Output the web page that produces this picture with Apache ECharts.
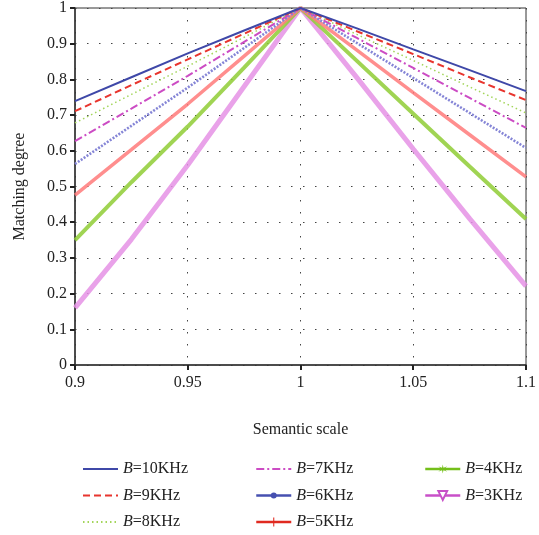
<!DOCTYPE html>
<html>
<head>
<meta charset="utf-8">
<script src="https://cdn.jsdelivr.net/npm/echarts@6/dist/echarts.min.js"></script>
<style>html,body{margin:0;padding:0;background:#fff;}#c{width:539px;height:535px;}</style>
</head>
<body>
<div id="c"></div>
<script>
// Data
var xs = [0.9, 0.925, 0.95, 0.975, 1, 1.025, 1.05, 1.075, 1.1];
var names = ['10KHz', '9KHz', '8KHz', '7KHz', '6KHz', '5KHz', '4KHz', '3KHz'];
var B10 = [0.739, 0.806, 0.873, 0.937, 1, 0.943, 0.884, 0.826, 0.767];
var B9  = [0.711, 0.784, 0.856, 0.928, 1, 0.935, 0.871, 0.806, 0.742];
var B8  = [0.678, 0.758, 0.837, 0.918, 1, 0.926, 0.853, 0.779, 0.706];
var B7  = [0.627, 0.718, 0.810, 0.905, 1, 0.916, 0.832, 0.748, 0.664];
var B6  = [0.563, 0.670, 0.777, 0.888, 1, 0.902, 0.804, 0.706, 0.608];
var B5  = [0.476, 0.603, 0.731, 0.865, 1, 0.882, 0.763, 0.645, 0.527];
var B4  = [0.350, 0.512, 0.668, 0.833, 1, 0.852, 0.704, 0.556, 0.409];
var B3  = [0.160, 0.352, 0.560, 0.780, 1, 0.805, 0.605, 0.410, 0.221];
var xTicks = ['0.9', '0.95', '1', '1.05', '1.1'];

var font = '"Liberation Serif", "DejaVu Serif", serif';
function pairs(ys) { return xs.map(function (x, i) { return [x, ys[i]]; }); }

var styles = [
  {d: B10, color: '#3f48a8', width: 2, type: 'solid', symbol: 'none'},
  {d: B9,  color: '#e8352e', width: 2, type: [7, 4], symbol: 'none'},
  {d: B8,  color: '#a3d55a', width: 1.5, type: [1.5, 3], symbol: 'none'},
  {d: B7,  color: '#cc4cc4', width: 2, type: [8, 3, 2, 3], symbol: 'none'},
  {d: B6,  color: '#8585d6', width: 2.6, type: [2, 1.5], symbol: 'path://M0,0L0.01,0M10,10L9.99,10M5,1.6A3.4,3.4,0,1,1,5,8.4A3.4,3.4,0,1,1,5,1.6Z', lc: '#4650b0'},
  {d: B5,  color: '#ff7a7a', width: 3.5, type: 'solid', symbol: 'path://M0,4.4L10,4.4L10,5.6L0,5.6Z M4.4,0L5.6,0L5.6,10L4.4,10Z', lc: '#e02a20'},
  {d: B4,  color: '#8fcc35', width: 4, type: 'solid', symbol: 'path://M5,0L5.7,3.8L9.3,2L6.4,5L9.3,8L5.7,6.2L5,10L4.3,6.2L0.7,8L3.6,5L0.7,2L4.3,3.8Z', lc: '#74bf1a'},
  {d: B3,  color: '#e592e5', width: 5, type: 'solid', symbol: 'emptyTriangle', lc: '#c84fc8'}
];

var series = styles.map(function (s, i) {
  return {
    name: names[i], type: 'line', data: pairs(s.d), showSymbol: false,
    symbol: s.symbol, symbolRotate: s.symbol === 'emptyTriangle' ? 180 : 0,
    lineStyle: {color: s.color, width: s.width, type: s.type, opacity: i >= 5 ? 0.85 : 1},
    itemStyle: {color: s.lc || s.color},
    z: 10 - i, animation: false
  };
});
series.reverse();

function legendData(idx) {
  return idx.map(function (i) {
    var s = styles[i];
    var o = {name: names[i]};
    if (s.lc) {
      o.lineStyle = {color: s.lc, width: 2.5, type: 'solid', opacity: 1};
      o.itemStyle = {color: s.lc, borderColor: s.lc};
    } else {
      o.itemStyle = {opacity: 0};
    }
    return o;
  });
}
function legend(left, idx) {
  return {
    orient: 'vertical', left: left, top: 456, height: 120, itemWidth: 35, itemHeight: 11, itemGap: 10.5,
    data: legendData(idx), selectedMode: false,
    formatter: function (n) { return '{i|B}=' + n; },
    textStyle: {fontFamily: font, fontSize: 16, color: '#222',
      rich: {i: {fontFamily: font, fontSize: 16, fontStyle: 'italic', color: '#222'}}}
  };
}

var chart = echarts.init(document.getElementById('c'), null, {renderer: 'canvas'});
chart.setOption({
  backgroundColor: '#fff',
  animation: false,
  grid: {left: 75, right: 11, top: 8, bottom: 170, show: true, borderColor: '#333', borderWidth: 1, backgroundColor: 'transparent'},
  xAxis: {
    type: 'value', min: 0.9, max: 1.1, interval: 0.05,
    name: 'Semantic scale', nameLocation: 'middle', nameGap: 57,
    nameTextStyle: {fontFamily: font, fontSize: 16, color: '#222'},
    axisLine: {show: true, lineStyle: {color: '#333', width: 1.5}},
    axisTick: {show: true, inside: false, length: 5, lineStyle: {color: '#222', width: 2}},
    axisLabel: {fontFamily: font, fontSize: 16, color: '#222', margin: 10,
      formatter: function (v) { var k = Math.round((v - 0.9) / 0.05); return xTicks[k] !== undefined ? xTicks[k] : ''; }},
    splitLine: {show: true, lineStyle: {color: '#444', type: [1.5, 10.5], width: 1}}
  },
  yAxis: {
    type: 'value', min: 0, max: 1, interval: 0.1,
    name: 'Matching degree', nameLocation: 'middle', nameGap: 47, nameRotate: 90,
    nameTextStyle: {fontFamily: font, fontSize: 16, color: '#222'},
    axisLine: {show: true, lineStyle: {color: '#333', width: 1.5}},
    axisTick: {show: true, inside: false, length: 5, lineStyle: {color: '#222', width: 2}},
    axisLabel: {fontFamily: font, fontSize: 16, color: '#222', margin: 8,
      formatter: function (v) { return String(Math.round(v * 10) / 10); }},
    splitLine: {show: true, lineStyle: {color: '#444', type: [1.5, 10.5], width: 1}}
  },
  legend: [legend(77, [0, 1, 2]), legend(250, [3, 4, 5]), legend(419, [6, 7])],
  series: series
});
</script>
</body>
</html>
